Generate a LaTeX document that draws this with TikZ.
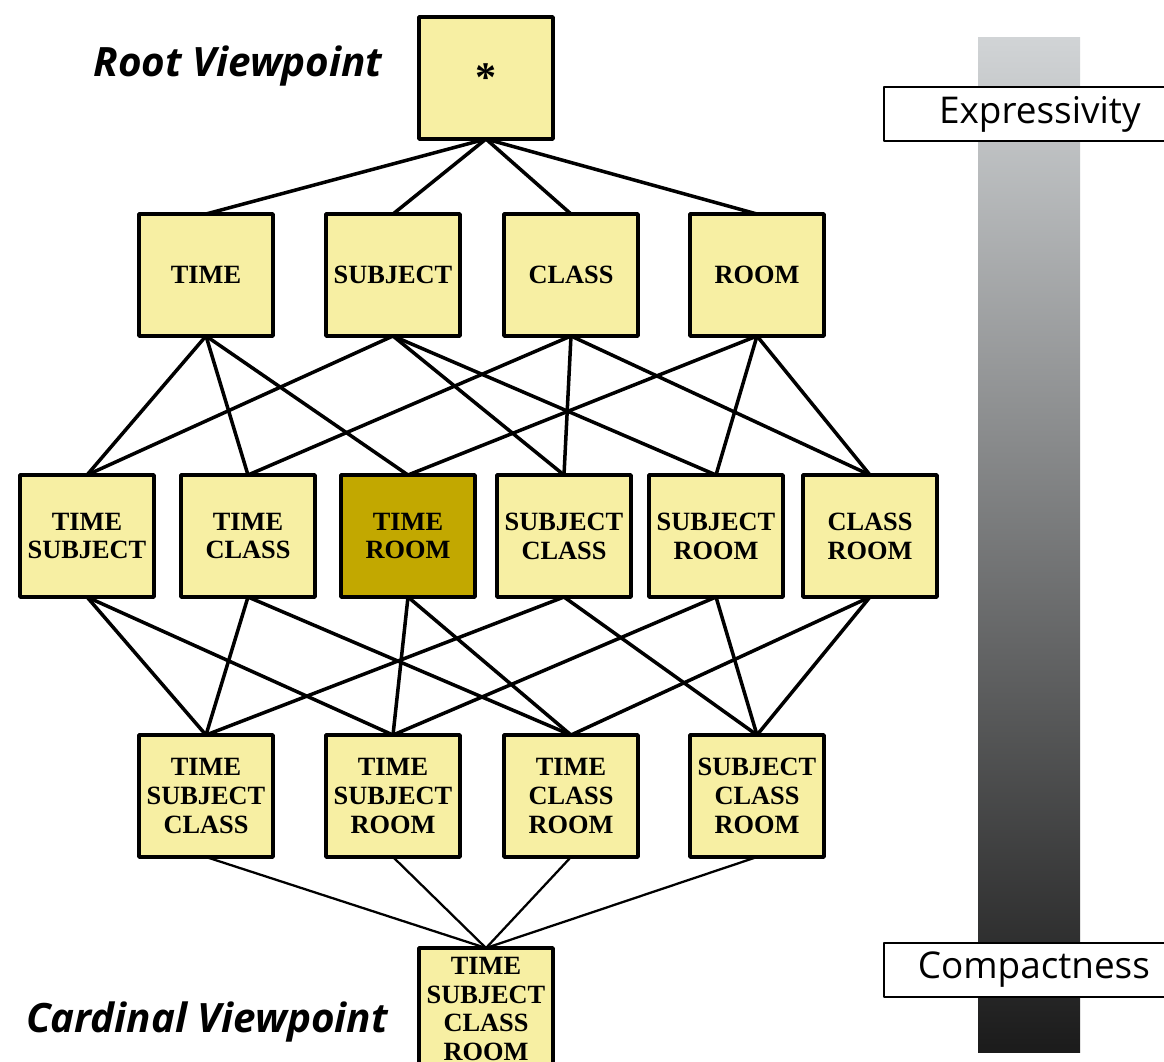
\documentclass[tikz,border=0pt]{standalone}
\usepackage{fontspec}
\newfontfamily\labfont{Open Sans}
\newfontfamily\boxfont{Liberation Serif}
\definecolor{boxyellow}{HTML}{F7EFA3}
\definecolor{boxgold}{HTML}{C2A800}
\tikzset{
  vbox/.style={draw, line width=2pt, fill=boxyellow, minimum width=2.68cm,
    minimum height=2.44cm, inner sep=0pt, outer sep=0pt, align=center,
    font=\boxfont\bfseries\fontsize{15}{16.4}\selectfont},
  hibox/.style={vbox, fill=boxgold},
  link/.style={line width=2pt},
  thinlink/.style={line width=1.3pt},
  tag/.style={font=\labfont\bfseries\itshape\fontsize{23}{26}\selectfont},
  scalebox/.style={draw, line width=1pt, fill=white, minimum width=5.8cm,
    minimum height=1.08cm, anchor=west, inner sep=0pt,
    font=\labfont\fontsize{21}{24}\selectfont}
}
\begin{document}
\begin{tikzpicture}[x=0.02cm, y=-0.02cm, line cap=round, line join=round]
\useasboundingbox (0,0) rectangle (1164,1062);

% scale bar
\shade[top color={rgb,255:red,209;green,212;blue,214},
       middle color={rgb,255:red,142;green,145;blue,147},
       bottom color={rgb,255:red,27;green,27;blue,27}]
  (978,37) rectangle (1080,1052);
\node[scalebox] (expr) at (883,114) {\hspace*{0.44cm}Expressivity\hfill};
\node[scalebox] (comp) at (883,970) {\hspace*{0.2cm}Compactness\hfill};

% lattice
\node[vbox] (root) at (486,78) {\raisebox{-0.12cm}{\fontsize{24}{24}\selectfont *}};

\node[vbox] (time) at (206,275) {TIME};
\node[vbox] (subj) at (393,275) {SUBJECT};
\node[vbox] (cls)  at (571,275) {CLASS};
\node[vbox] (room) at (757,275) {ROOM};

\node[vbox]  (ts) at (87,536)  {TIME\\SUBJECT};
\node[vbox]  (tc) at (248,536) {TIME\\CLASS};
\node[hibox] (tr) at (408,536) {TIME\\ROOM};
\node[vbox]  (sc) at (564,536) {SUBJECT\\CLASS};
\node[vbox]  (sr) at (716,536) {SUBJECT\\ROOM};
\node[vbox]  (cr) at (870,536) {CLASS\\ROOM};

\node[vbox] (tsc) at (206,796) {TIME\\SUBJECT\\CLASS};
\node[vbox] (tsr) at (393,796) {TIME\\SUBJECT\\ROOM};
\node[vbox] (tcr) at (571,796) {TIME\\CLASS\\ROOM};
\node[vbox] (scr) at (757,796) {SUBJECT\\CLASS\\ROOM};

\node[vbox] (card) at (486,1009) {TIME\\SUBJECT\\CLASS\\ROOM};

\foreach \n in {time,subj,cls,room}
  \draw[link] (root.south) -- (\n.north);

\foreach \a/\b in {time/ts, time/tc, time/tr, subj/ts, subj/sc, subj/sr,
                   cls/tc, cls/sc, cls/cr, room/tr, room/sr, room/cr}
  \draw[link] (\a.south) -- (\b.north);

\foreach \a/\b in {ts/tsc, ts/tsr, tc/tsc, tc/tcr, tr/tsr, tr/tcr,
                   sc/tsc, sc/scr, sr/tsr, sr/scr, cr/tcr, cr/scr}
  \draw[link] (\a.south) -- (\b.north);

\foreach \n in {tsc,tsr,tcr,scr}
  \draw[thinlink] (\n.south) -- (card.north);

\node[tag] at (238,66) {Root Viewpoint};
\node[tag] at (207,1022) {Cardinal Viewpoint};
\end{tikzpicture}
\end{document}
